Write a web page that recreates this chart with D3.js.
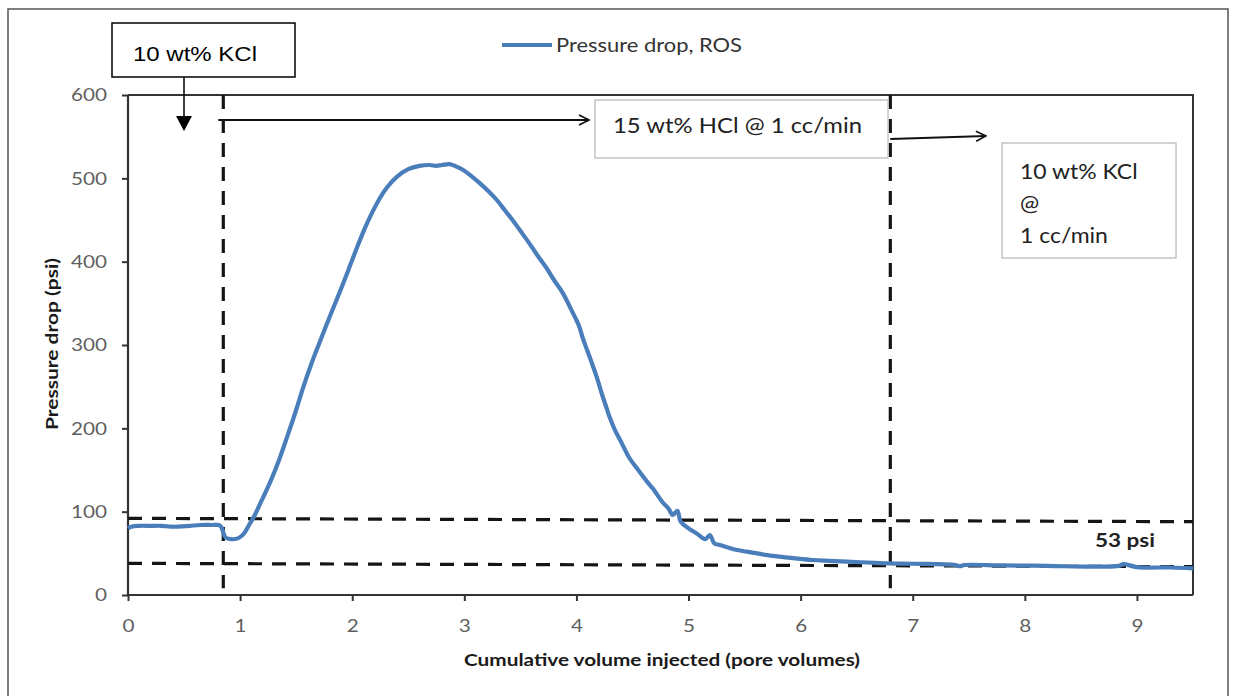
<!DOCTYPE html>
<html>
<head>
<meta charset="utf-8">
<script src="https://cdn.jsdelivr.net/npm/d3@7"></script>
<style>
  html, body { margin: 0; padding: 0; background: #fff; }
  svg { display: block; }
</style>
</head>
<body>
<svg id="chart" width="1235" height="696"></svg>
<script>
// ---------- data ----------
const seriesName = "Pressure drop, ROS";
const pvInjected = [0.00,0.03,0.10,0.20,0.30,0.38,0.45,0.55,0.65,0.75,0.81,0.83,0.85,0.87,0.92,0.98,1.03,1.08,1.12,1.18,1.27,1.35,1.42,1.50,1.56,1.64,1.70,1.77,1.86,1.92,1.98,2.04,2.10,2.16,2.25,2.31,2.40,2.50,2.60,2.69,2.75,2.80,2.87,2.93,2.99,3.06,3.14,3.22,3.29,3.36,3.43,3.50,3.58,3.65,3.73,3.80,3.88,3.97,4.02,4.06,4.12,4.18,4.23,4.27,4.30,4.35,4.39,4.47,4.54,4.63,4.68,4.77,4.82,4.86,4.90,4.93,5.00,5.07,5.15,5.19,5.23,5.28,5.40,5.52,5.65,5.81,5.95,6.11,6.25,6.41,6.60,6.79,7.00,7.38,7.42,7.46,7.80,8.20,8.60,8.84,8.88,9.00,9.30,9.50];
const pressureDrop = [80,82,83,83,83,82,82,83,84,84,84,82,75,69,67,68,73,84,93,110,136,163,190,222,248,279,300,324,354,374,395,416,436,454,477,489,502,511,515,516,515,516,517,514,510,503,494,484,474,462,450,437,422,408,393,378,362,338,324,307,285,262,240,224,212,196,186,165,152,136,128,111,104,96,101,88,80,74,67,72,62,60,55,52,49,46,44,42,41,40,39,38,37.5,36,34.5,36,35.5,35,34,35,37,33.5,33,32];
const xTicks = [0,1,2,3,4,5,6,7,8,9];
const yTicks = [0,100,200,300,400,500,600];
const phaseBoundaries = [0.85, 6.8];          // pore volumes
const refLevelHigh = [92, 88];                 // psi at x = 0 and x = 9.5
const refLevelLow = [38, 34];
const xTitle = "Cumulative volume injected (pore volumes)";
const yTitle = "Pressure drop (psi)";
const diffLabel = "53 psi";
const stage1 = "10 wt% KCl";
const stage2 = "15 wt% HCl @ 1 cc/min";
const stage3 = ["10 wt% KCl", "@", "1 cc/min"];

// ---------- layout ----------
const svg = d3.select("#chart");
const L = 128, R = 1193, T = 95, B = 595;
const x = d3.scaleLinear().domain([0, 9.5]).range([L, R]);
const y = d3.scaleLinear().domain([0, 600]).range([B, T]);
const blue = "#4a7ebb";
const calibri = "Lato, 'Open Sans', sans-serif";

function stretch(sel, f) {
  sel.each(function () {
    const l = this.getComputedTextLength();
    d3.select(this).attr("textLength", l * f).attr("lengthAdjust", "spacingAndGlyphs");
  });
  return sel;
}
function fitWidth(sel, w) {
  return sel.attr("textLength", w).attr("lengthAdjust", "spacingAndGlyphs");
}

// outer frame
svg.append("rect").attr("x", 8).attr("y", 9).attr("width", 1220).attr("height", 700)
  .attr("fill", "#fff").attr("stroke", "#555").attr("stroke-width", 1.5);

// markers
const defs = svg.append("defs");
defs.append("marker").attr("id", "open").attr("viewBox", "0 0 12 12")
  .attr("refX", 11).attr("refY", 6).attr("markerWidth", 12).attr("markerHeight", 12)
  .attr("markerUnits", "userSpaceOnUse").attr("orient", "auto")
  .append("path").attr("d", "M1,1 L11,6 L1,11").attr("fill", "none")
  .attr("stroke", "#111").attr("stroke-width", 1.6);

// plot frame (top / right)
svg.append("path").attr("d", `M${L},${T}H${R}V${B}`).attr("fill", "none")
  .attr("stroke", "#333").attr("stroke-width", 2);

// axes
const yAxis = svg.append("g").attr("transform", `translate(${L},0)`)
  .call(d3.axisLeft(y).tickValues(yTicks).tickSize(6).tickSizeOuter(0).tickPadding(15));
const xAxis = svg.append("g").attr("transform", `translate(0,${B})`)
  .call(d3.axisBottom(x).tickValues(xTicks).tickSize(6).tickSizeOuter(0).tickPadding(18));
[yAxis, xAxis].forEach(g => {
  g.select(".domain").attr("stroke", "#333").attr("stroke-width", 2.2);
  g.selectAll(".tick line").attr("stroke", "#333").attr("stroke-width", 2);
  stretch(g.selectAll(".tick text").attr("fill", "#5f5f5f").attr("font-family", calibri)
    .attr("font-size", 18), 1.15);
});
xAxis.select(".domain").attr("d", `M${L},0H${R}`);
yAxis.select(".domain").attr("d", `M0,${B}V${T}`);

// axis titles
fitWidth(svg.append("text").attr("x", 662).attr("y", 666).attr("text-anchor", "middle")
  .attr("font-family", calibri).attr("font-weight", "bold").attr("font-size", 17)
  .attr("fill", "#1a1a1a").text(xTitle), 396);
fitWidth(svg.append("text").attr("transform", "translate(58,344) rotate(-90)").attr("text-anchor", "middle")
  .attr("font-family", calibri).attr("font-weight", "bold").attr("font-size", 17)
  .attr("fill", "#1a1a1a").text(yTitle), 172);

// dashed reference lines
const dash = "14,10";
[refLevelHigh, refLevelLow].forEach(lv => {
  svg.append("line").attr("x1", x(0)).attr("x2", x(9.5)).attr("y1", y(lv[0])).attr("y2", y(lv[1]))
    .attr("stroke", "#151515").attr("stroke-width", 3.2).attr("stroke-dasharray", dash);
});
phaseBoundaries.forEach(b => {
  svg.append("line").attr("x1", x(b)).attr("x2", x(b)).attr("y1", T).attr("y2", y(8))
    .attr("stroke", "#151515").attr("stroke-width", 3.2).attr("stroke-dasharray", dash);
});

// data line
const data = pvInjected.map((v, i) => [v, pressureDrop[i]]);
svg.append("path").datum(data)
  .attr("d", d3.line().x(d => x(d[0])).y(d => y(d[1])).curve(d3.curveCatmullRom.alpha(0.5)))
  .attr("fill", "none").attr("stroke", blue).attr("stroke-width", 4.2).attr("stroke-linejoin", "round");

// legend
svg.append("line").attr("x1", 502).attr("x2", 552).attr("y1", 45).attr("y2", 45)
  .attr("stroke", blue).attr("stroke-width", 4);
fitWidth(svg.append("text").attr("x", 556).attr("y", 52).attr("font-family", calibri).attr("font-size", 18.5)
  .attr("fill", "#333").text(seriesName), 186);

// stage 1 box + down arrow
svg.append("rect").attr("x", 112).attr("y", 23).attr("width", 183).attr("height", 54)
  .attr("fill", "#fff").attr("stroke", "#000").attr("stroke-width", 1.5);
fitWidth(svg.append("text").attr("x", 133).attr("y", 61).attr("font-family", "'Liberation Sans', Arial, sans-serif")
  .attr("font-size", 20).attr("fill", "#000").text(stage1), 124);
svg.append("line").attr("x1", 184).attr("x2", 184).attr("y1", 77).attr("y2", 117)
  .attr("stroke", "#000").attr("stroke-width", 1.5);
svg.append("path").attr("d", "M176,116 L192,116 L184,131 Z").attr("fill", "#000");

// stage 2 arrow + box
svg.append("line").attr("x1", x(phaseBoundaries[0]) - 5).attr("x2", 589).attr("y1", 120).attr("y2", 120)
  .attr("stroke", "#111").attr("stroke-width", 1.8).attr("marker-end", "url(#open)");
svg.append("rect").attr("x", 595).attr("y", 100).attr("width", 293).attr("height", 58)
  .attr("fill", "#fff").attr("stroke", "#c4c4c4").attr("stroke-width", 1.5);
fitWidth(svg.append("text").attr("x", 613).attr("y", 133).attr("font-family", calibri).attr("font-size", 20.5)
  .attr("fill", "#222").text(stage2), 249);

// stage 3 arrow + box
svg.append("line").attr("x1", x(phaseBoundaries[1])).attr("x2", 986).attr("y1", 139).attr("y2", 136)
  .attr("stroke", "#111").attr("stroke-width", 1.8).attr("marker-end", "url(#open)");
svg.append("rect").attr("x", 1002).attr("y", 143).attr("width", 174).attr("height", 115)
  .attr("fill", "#fff").attr("stroke", "#c4c4c4").attr("stroke-width", 1.5);
stage3.forEach((t, i) => {
  stretch(svg.append("text").attr("x", 1020).attr("y", 179 + i * 32).attr("font-family", calibri)
    .attr("font-size", 20.5).attr("fill", "#222").text(t), 1.12);
});

// difference label
fitWidth(svg.append("text").attr("x", 1095).attr("y", 547).attr("font-family", calibri).attr("font-weight", "bold")
  .attr("font-size", 19).attr("fill", "#222").text(diffLabel), 60);
</script>
</body>
</html>
